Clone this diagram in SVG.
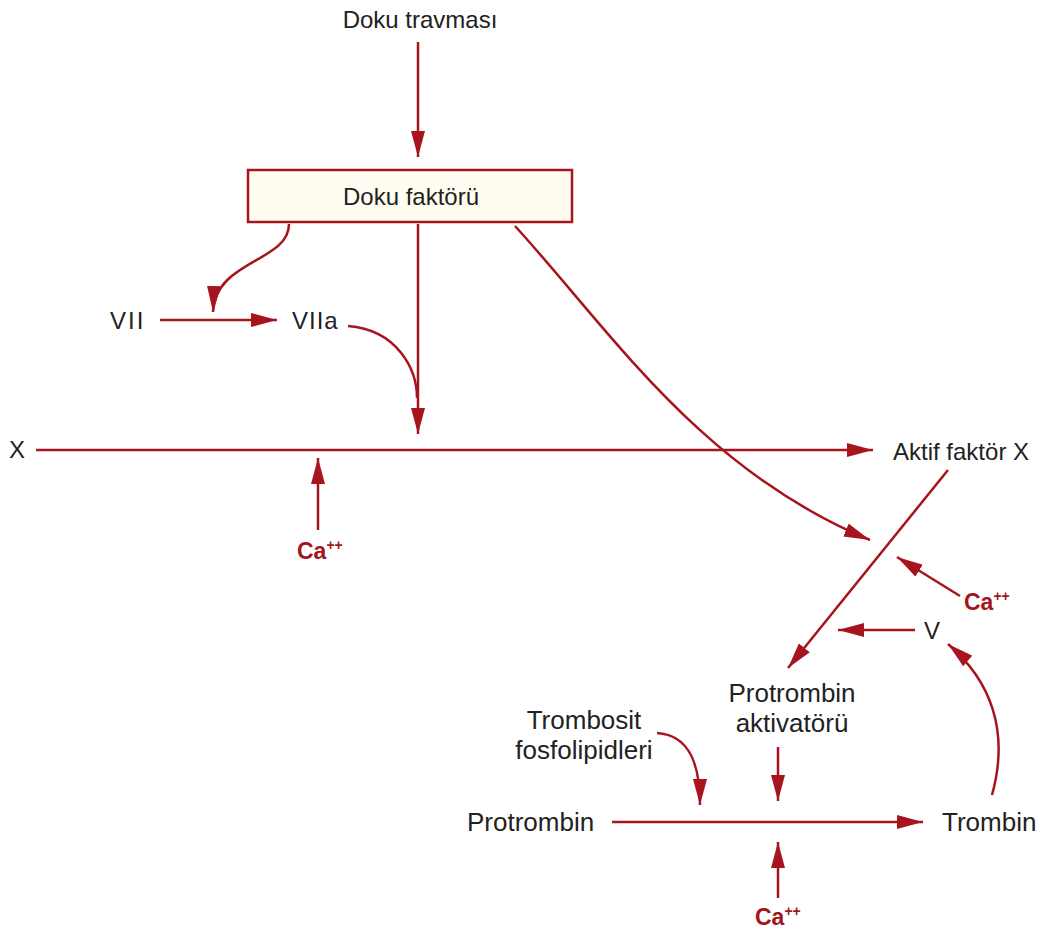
<svg xmlns="http://www.w3.org/2000/svg" width="1046" height="937" viewBox="0 0 1046 937">
<style>
.t{font-family:"Liberation Sans",Arial,sans-serif;font-size:24px;fill:#222}
.b{font-size:26px}
.ca{font-family:"Liberation Sans",Arial,sans-serif;font-size:23px;font-weight:bold;fill:#a3151c}
.sup{font-size:14px}
.n{fill:none;stroke:#a8141e;stroke-width:2.5}
</style>
<defs>
<marker id="a" viewBox="0 0 26 14" refX="26" refY="7" markerWidth="26" markerHeight="14" markerUnits="userSpaceOnUse" orient="auto">
<path d="M0,0 L26,7 L0,14 Z" fill="#a8141e"/>
</marker>
</defs>
<rect width="1046" height="937" fill="#ffffff"/>
<g id="connectors">
<path class="n" d="M418,42 V157" marker-end="url(#a)"/>
<path class="n" d="M289,224 C289,262 215,260 213,312" marker-end="url(#a)"/>
<path class="n" d="M160,320 H277" marker-end="url(#a)"/>
<path class="n" d="M348,326 C398,330 417,370 417,398"/>
<path class="n" d="M418,224 V434" marker-end="url(#a)"/>
<path class="n" d="M36,450 H873" marker-end="url(#a)"/>
<path class="n" d="M318,530 V458" marker-end="url(#a)"/>
<path class="n" d="M515,226 C610,330 700,470 870,540" marker-end="url(#a)"/>
<path class="n" d="M948,470 L788,668" marker-end="url(#a)"/>
<path class="n" d="M960,596 L897,557" marker-end="url(#a)"/>
<path class="n" d="M915,630 H838" marker-end="url(#a)"/>
<path class="n" d="M992,795 C1010,730 990,680 948,644" marker-end="url(#a)"/>
<path class="n" d="M657,733 C690,735 700,765 700,805" marker-end="url(#a)"/>
<path class="n" d="M778,747 V801" marker-end="url(#a)"/>
<path class="n" d="M612,822 H923" marker-end="url(#a)"/>
<path class="n" d="M778,898 V842" marker-end="url(#a)"/>
</g>
<g id="n-doku-travmasi"><text class="t" x="420" y="28" text-anchor="middle">Doku travması</text></g>
<g id="n-doku-faktoru">
<rect x="248" y="170" width="324" height="52" fill="#fffdf2" stroke="#a8141e" stroke-width="2.5"/>
<text class="t" x="411" y="205" text-anchor="middle">Doku faktörü</text>
</g>
<g id="n-vii"><text class="t" x="110" y="329" letter-spacing="2">VII</text></g>
<g id="n-viia"><text class="t" x="292" y="329" letter-spacing="1">VIIa</text></g>
<g id="n-x"><text class="t" x="9" y="458">X</text></g>
<g id="n-ca1"><text class="ca" x="297" y="559">Ca<tspan class="sup" dy="-9">++</tspan></text></g>
<g id="n-aktif"><text class="t" x="893" y="460">Aktif faktör X</text></g>
<g id="n-ca2"><text class="ca" x="964" y="610">Ca<tspan class="sup" dy="-9">++</tspan></text></g>
<g id="n-v"><text class="t" x="924" y="639">V</text></g>
<g id="n-aktivator"><text class="t b" x="792" y="702" text-anchor="middle">Protrombin</text><text class="t b" x="792" y="732" text-anchor="middle">aktivatörü</text></g>
<g id="n-trombosit"><text class="t b" x="584" y="729" text-anchor="middle">Trombosit</text><text class="t b" x="584" y="759" text-anchor="middle">fosfolipidleri</text></g>
<g id="n-protrombin"><text class="t b" x="467" y="831">Protrombin</text></g>
<g id="n-trombin"><text class="t b" x="942" y="831">Trombin</text></g>
<g id="n-ca3"><text class="ca" x="755" y="925">Ca<tspan class="sup" dy="-9">++</tspan></text></g>
</svg>
